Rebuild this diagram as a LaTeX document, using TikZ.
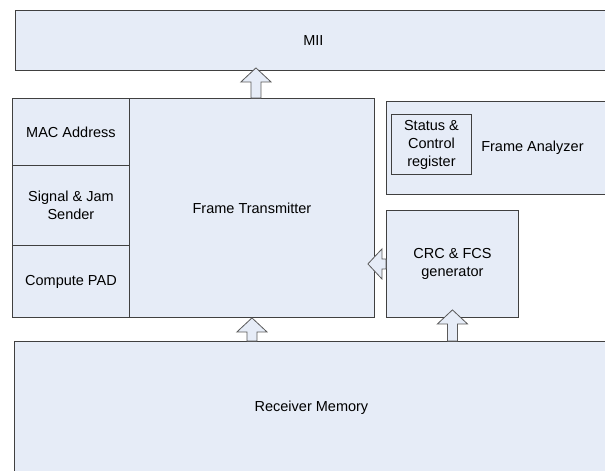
\documentclass[tikz,border=0pt]{standalone}
\usepackage{fontspec}
\setmainfont{Liberation Sans}
\usetikzlibrary{calc}
\definecolor{paleblue}{HTML}{E6ECF7}
\definecolor{edgegrey}{HTML}{404040}
\definecolor{arrowgrey}{HTML}{5A5A5A}

\begin{document}
\begin{tikzpicture}[x=1pt, y=-1pt,
    block/.style={draw=edgegrey, fill=paleblue, line width=0.9pt, anchor=north west,
      inner sep=0pt, align=center, font=\fontsize{14.5}{18}\selectfont},
    fatarrow/.style={draw=arrowgrey, fill=paleblue, line width=0.8pt, line join=miter,
      to path={($(\tikztostart)!5pt!90:(\tikztotarget)$)
        -- ($(\tikztotarget)!14pt!(\tikztostart)!5pt!90:(\tikztotarget)$)
        -- ($(\tikztotarget)!14pt!(\tikztostart)!15pt!90:(\tikztotarget)$)
        -- (\tikztotarget)
        -- ($(\tikztotarget)!14pt!(\tikztostart)!15pt!-90:(\tikztotarget)$)
        -- ($(\tikztotarget)!14pt!(\tikztostart)!5pt!-90:(\tikztotarget)$)
        -- ($(\tikztostart)!5pt!-90:(\tikztotarget)$) -- cycle}}]
  \clip (0,0) rectangle (605,471);

  % top interface
  \node[block, minimum width=596pt, minimum height=60pt] (mii) at (15,10) {MII};

  % transmitter side
  \node[block, minimum width=117pt, minimum height=67pt] (mac) at (12,98) {MAC Address};
  \node[block, minimum width=117pt, minimum height=80pt] (sig) at (12,165) {Signal \& Jam\\Sender};
  \node[block, minimum width=117pt, minimum height=72pt] (pad) at (12,245) {Compute PAD};
  \node[block, minimum width=245pt, minimum height=219pt] (ft) at (129,98) {Frame Transmitter};

  % analyzer and crc
  \node[block, minimum width=292pt, minimum height=93pt] (fa) at (386,101) {Frame Analyzer};
  \node[block, minimum width=80pt, minimum height=60pt] (scr) at (391,114) {Status \&\\Control\\register};
  \node[block, minimum width=132pt, minimum height=107pt] (crc) at (386,210) {CRC \& FCS\\generator};

  % memory
  \node[block, minimum width=594pt, minimum height=132pt] (rm) at (14,341) {Receiver Memory};

  % block arrows
  \draw[fatarrow] ($(ft.north)+(4,0)$) to ($(ft.north |- mii.south)+(4,-3)$);
  \draw[fatarrow] (crc.west) to ($(ft.east |- crc.west)+(-7,0)$);
  \draw[fatarrow] (rm.north -| ft.south) to (ft.south);
  \draw[fatarrow] (rm.north -| crc.south) to ($(crc.south)+(0,-8)$);
\end{tikzpicture}
\end{document}
